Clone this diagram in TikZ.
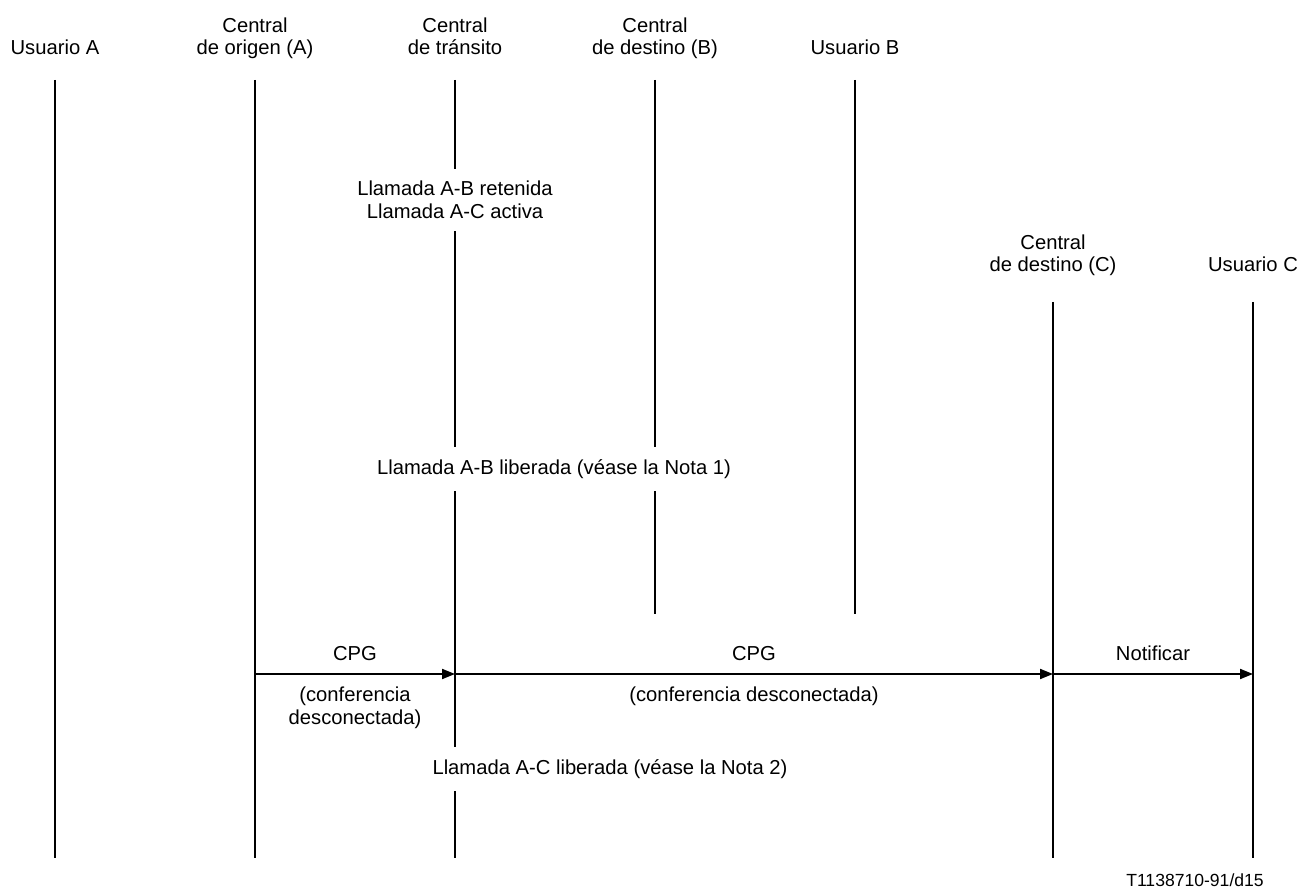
\documentclass[tikz,border=0pt]{standalone}
\usepackage{fontspec}
\setmainfont{Liberation Sans}
\usetikzlibrary{arrows.meta, positioning}

\begin{document}
\begin{tikzpicture}[
    lifeline/.style={line width=1.1pt},
    msg/.style={line width=1.1pt, -{Triangle[length=0.26cm, width=0.2cm]}},
    hdr/.style={font=\fontsize{11.5}{13}\selectfont, align=center, inner sep=1pt, anchor=base},
    lbl/.style={font=\fontsize{11.5}{13}\selectfont, align=center, inner sep=1pt},
    note/.style={font=\fontsize{11.5}{13}\selectfont, align=center, fill=white, inner xsep=2pt, inner ysep=7pt}
  ]
  \useasboundingbox (0, 0) rectangle (26.06, -17.82);

  % headers
  \node[hdr] (ua) at (1.1, -1.1) {Usuario A};
  \node[hdr] (co) at (5.1, -1.1) {Central\\de origen (A)};
  \node[hdr] (ct) at (9.1, -1.1) {Central\\de tr\'ansito};
  \node[hdr] (cb) at (13.1, -1.1) {Central\\de destino (B)};
  \node[hdr] (ub) at (17.1, -1.1) {Usuario B};
  \node[hdr] (cc) at (21.06, -5.44) {Central\\de destino (C)};
  \node[hdr] (uc) at (25.06, -5.44) {Usuario C};

  % lifeline ends
  \coordinate (ua top) at (1.1, -1.6);   \coordinate (ua bot) at (1.1, -17.16);
  \coordinate (co top) at (5.1, -1.6);   \coordinate (co bot) at (5.1, -17.16);
  \coordinate (ct top) at (9.1, -1.6);   \coordinate (ct bot) at (9.1, -17.16);
  \coordinate (cb top) at (13.1, -1.6);  \coordinate (cb bot) at (13.1, -12.28);
  \coordinate (ub top) at (17.1, -1.6);  \coordinate (ub bot) at (17.1, -12.28);
  \coordinate (cc top) at (21.06, -6.04); \coordinate (cc bot) at (21.06, -17.16);
  \coordinate (uc top) at (25.06, -6.04); \coordinate (uc bot) at (25.06, -17.16);

  \foreach \l in {ua, co, ct, cb, ub, cc, uc}
    \draw[lifeline] (\l\space top) -- (\l\space bot);

  % states on the lines
  \node[note] (held) at (9.1, -4.0) {Llamada A-B retenida\\Llamada A-C activa};
  \node[note] (relab) at (11.08, -9.38) {Llamada A-B liberada (v\'ease la Nota 1)};
  \node[note] (relac) at (12.2, -15.38) {Llamada A-C liberada (v\'ease la Nota 2)};

  % messages
  \coordinate (co m) at (5.1, -13.48);
  \coordinate (ct m) at (9.1, -13.48);
  \coordinate (cc m) at (21.06, -13.48);
  \coordinate (uc m) at (25.06, -13.48);
  \draw[msg] (co m) -- node[lbl, above=6pt] (cpg1) {CPG}
    node[lbl, below=6pt] (why1) {(conferencia\\desconectada)} (ct m);
  \draw[msg] (ct m) -- node[lbl, above=6pt] (cpg2) {CPG}
    node[lbl, below=6pt] (why2) {(conferencia desconectada)} (cc m);
  \draw[msg] (cc m) -- node[lbl, above=6pt] (notif) {Notificar} (uc m);

  \node[font=\fontsize{10}{12}\selectfont] (ref) at (23.9, -17.6) {T1138710-91/d15};
\end{tikzpicture}
\end{document}
